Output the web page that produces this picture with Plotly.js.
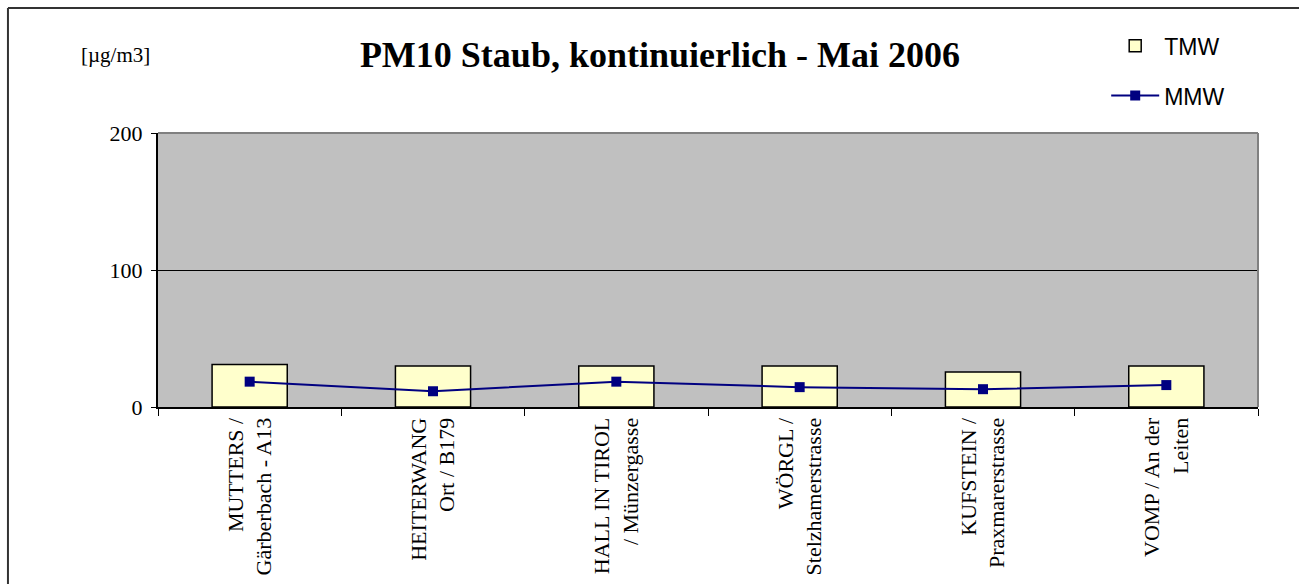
<!DOCTYPE html>
<html>
<head>
<meta charset="utf-8">
<script src="https://cdn.plot.ly/plotly-3.0.1.min.js"></script>
<style>html,body{margin:0;padding:0;background:#fff;}#chart{width:1299px;height:584px;}</style>
</head>
<body>
<div id="chart"></div>
<script>
const stations = [
  "MUTTERS /<br>Gärberbach - A13",
  "HEITERWANG<br>Ort / B179",
  "HALL IN TIROL<br>/ Münzergasse",
  "WÖRGL /<br>Stelzhamerstrasse",
  "KUFSTEIN /<br>Praxmarerstrasse",
  "VOMP / An der<br>Leiten"
];
const tmw = [31, 30, 30, 30, 25.5, 30];
const mmw = [18.5, 11.5, 18.5, 14.5, 13, 16];
const yTicks = [0, 100, 200];

const serif = "Liberation Serif, Times New Roman, serif";
const sans = "Liberation Sans, Arial, sans-serif";

const traces = [
  {
    type: "bar", name: "TMW", x: stations, y: tmw, width: 0.41,
    marker: {color: "#FFFFCC", line: {color: "#000000", width: 1.5}},
    legendgroup: "a", hoverinfo: "skip"
  },
  {
    type: "scatter", mode: "lines+markers", name: "MMW", x: stations, y: mmw,
    line: {color: "#000080", width: 2},
    marker: {symbol: "square", size: 10, color: "#000080"},
    legendgroup: "b", hoverinfo: "skip"
  }
];

const layout = {
  width: 1299, height: 584,
  margin: {l: 158, r: 41, t: 133, b: 177, autoexpand: false},
  paper_bgcolor: "#ffffff",
  plot_bgcolor: "#C0C0C0",
  showlegend: true,
  title: {
    text: "<b>PM10 Staub, kontinuierlich - Mai 2006</b>",
    font: {family: serif, size: 36, color: "#000"},
    x: 0.508, xref: "container", xanchor: "center",
    y: 0.906, yref: "container", yanchor: "middle"
  },
  legend: {
    x: 0.862, xanchor: "left", y: 1.397, yanchor: "top",
    font: {family: sans, size: 23, color: "#000"},
    traceorder: "grouped", tracegroupgap: 17,
    itemwidth: 48, bgcolor: "rgba(0,0,0,0)"
  },
  xaxis: {
    type: "category", tickson: "boundaries",
    ticks: "outside", ticklen: 7, tickcolor: "#000", tickwidth: 1,
    tickangle: -90, automargin: false,
    tickfont: {family: serif, size: 22, color: "#000"},
    showline: true, linecolor: "#000", linewidth: 2,
    showgrid: false, zeroline: false, fixedrange: true
  },
  yaxis: {
    range: [0, 200], tickvals: yTicks, ticktext: yTicks.map(String),
    ticks: "outside", ticklen: 5, tickcolor: "#000", tickwidth: 1,
    ticklabelstandoff: 4, automargin: false,
    tickfont: {family: serif, size: 22, color: "#000"},
    showline: true, linecolor: "#000", linewidth: 2,
    showgrid: true, gridcolor: "#000", gridwidth: 1,
    zeroline: false, fixedrange: true
  },
  shapes: [
    {type: "line", xref: "paper", yref: "paper", x0: 0, x1: 1, y0: 1, y1: 1,
     line: {color: "#808080", width: 2}, layer: "above"},
    {type: "line", xref: "paper", yref: "paper", x0: 1, x1: 1, y0: 0, y1: 1,
     line: {color: "#808080", width: 2}, layer: "above"},
    {type: "line", xref: "paper", yref: "paper", x0: -0.1364, x1: -0.1364, y0: -0.7, y1: 1.4562,
     line: {color: "#333333", width: 2}},
    {type: "line", xref: "paper", yref: "paper", x0: -0.1364, x1: 1.05, y0: 1.4562, y1: 1.4562,
     line: {color: "#333333", width: 2}}
  ],
  annotations: [
    {text: "[µg/m3]", xref: "paper", yref: "paper", x: -0.039, y: 1.285,
     xanchor: "center", yanchor: "middle", showarrow: false,
     font: {family: serif, size: 21, color: "#000"}}
  ]
};

Plotly.newPlot("chart", traces, layout, {displayModeBar: false, staticPlot: true});
</script>
</body>
</html>
